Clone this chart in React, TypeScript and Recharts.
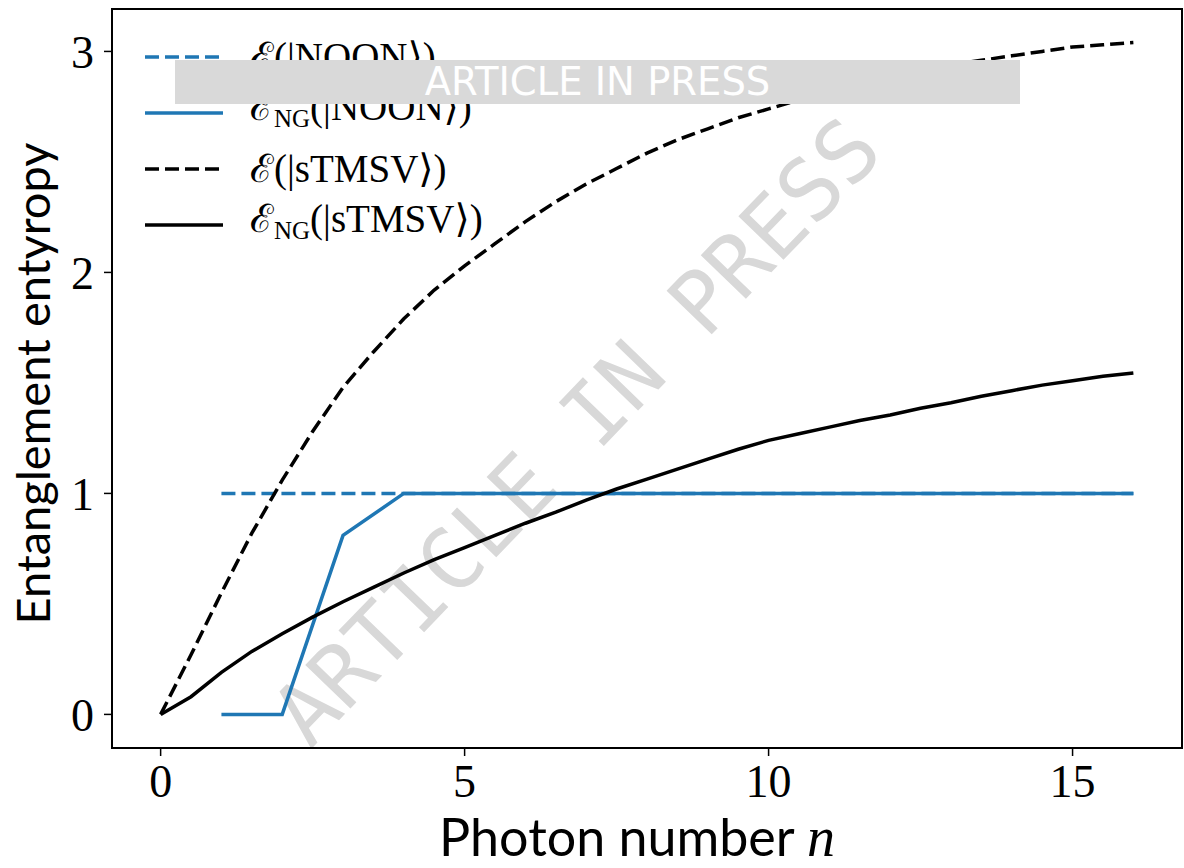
import React from 'react';
import { LineChart, Line, XAxis, YAxis, ReferenceArea, Label } from 'recharts';

// ---- data ----
const photonN = [0, 0.5, 1, 1.5, 2, 2.5, 3, 3.5, 4, 4.5, 5, 5.5, 6, 6.5, 7, 7.5, 8, 8.5, 9, 9.5, 10, 10.5, 11, 11.5, 12, 12.5, 13, 13.5, 14, 14.5, 15, 15.5, 16];
const entropySTMSV = [0, 0.27, 0.55, 0.82, 1.06, 1.28, 1.48, 1.64, 1.79, 1.92, 2.03, 2.13, 2.23, 2.32, 2.4, 2.47, 2.54, 2.6, 2.65, 2.7, 2.74, 2.78, 2.82, 2.85, 2.88, 2.91, 2.94, 2.96, 2.98, 3.0, 3.02, 3.03, 3.04];
const entropyNGSTMSV = [0, 0.08, 0.19, 0.285, 0.365, 0.44, 0.51, 0.575, 0.64, 0.7, 0.755, 0.81, 0.865, 0.915, 0.97, 1.02, 1.065, 1.11, 1.155, 1.2, 1.24, 1.27, 1.3, 1.33, 1.355, 1.385, 1.41, 1.44, 1.465, 1.49, 1.51, 1.53, 1.545];
const noonN = [1, 2, 3, 4, 5, 6, 7, 8, 9, 10, 11, 12, 13, 14, 15, 16];
const entropyNOON = [1, 1, 1, 1, 1, 1, 1, 1, 1, 1, 1, 1, 1, 1, 1, 1];
const entropyNGNOON = [0, 0, 0.81, 1, 1, 1, 1, 1, 1, 1, 1, 1, 1, 1, 1, 1];
const xTicks = [0, 5, 10, 15];
const yTicks = [0, 1, 2, 3];
const xDomain = [-0.8, 16.8];
const yDomain = [-0.152, 3.192];
const watermarkText = 'ARTICLE IN PRESS';

const BLUE = '#1f77b4';
const BLACK = '#000000';
const DASH = '14 6';

const noonData = noonN.map((n, i) => ({ n, e: entropyNOON[i], ng: entropyNGNOON[i] }));
const tmsvData = photonN.map((n, i) => ({ n, e: entropySTMSV[i], ng: entropyNGSTMSV[i] }));

const legendItems = [
  { state: 'NOON', ng: false, color: BLUE, dash: DASH },
  { state: 'NOON', ng: true, color: BLUE, dash: undefined },
  { state: 'sTMSV', ng: false, color: BLACK, dash: DASH },
  { state: 'sTMSV', ng: true, color: BLACK, dash: undefined },
];

const mathFont = '"Liberation Serif", "DejaVu Serif", serif';
const sansFont = 'Lato, "DejaVu Sans", sans-serif';

const ChartLegend = () => (
  <div style={{ position: 'absolute', left: 144, top: 29, zIndex: 1, display: 'flex', flexDirection: 'column' }}>
    {legendItems.map((it, i) => (
      <div key={i} style={{ display: 'flex', alignItems: 'center', height: 56 }}>
        <svg width={80} height={10} style={{ display: 'block' }}>
          <line x1={1} y1={5} x2={79} y2={5} stroke={it.color} strokeWidth={3.5} strokeDasharray={it.dash} />
        </svg>
        <span style={{ marginLeft: 26, fontFamily: mathFont, fontSize: 39, color: '#000', whiteSpace: 'nowrap', lineHeight: '46px' }}>
          ℰ{it.ng ? <sub style={{ fontSize: 25, verticalAlign: '-7px' }}>NG</sub> : null}(|{it.state}⟩)
        </span>
      </div>
    ))}
  </div>
);

const XLabel = (props: any) => {
  const vb = props.viewBox;
  return (
    <text x={vb.x + vb.width / 2 - 10} y={vb.y + 108} textAnchor="middle" fontFamily={sansFont} fontSize={52} fill="#000">
      Photon number <tspan fontFamily={mathFont} fontStyle="italic" fontSize={56}>n</tspan>
    </text>
  );
};

const YLabel = (props: any) => {
  const vb = props.viewBox;
  const cx = 50;
  const cy = vb.y + vb.height / 2 + 5;
  return (
    <text x={cx} y={cy} textAnchor="middle" fontFamily={sansFont} fontSize={47} fill="#000" transform={`rotate(-90 ${cx} ${cy})`}>
      Entanglement entyropy
    </text>
  );
};

export default function App() {
  return (
    <div style={{ position: 'absolute', left: 0, top: 0, width: 1184, height: 868, background: '#fff', overflow: 'hidden' }}>
      <svg width={1184} height={868} style={{ position: 'absolute', left: 0, top: 0, zIndex: 0 }}>
        <text
          x={598}
          y={452}
          textAnchor="middle"
          fontFamily='"DejaVu Sans Mono", monospace'
          fontSize={86}
          fill="#d8d8d8"
          transform="rotate(-46 598 452)"
        >
          {watermarkText}
        </text>
      </svg>
      <div style={{ position: 'absolute', left: 0, top: 0, zIndex: 1 }}>
        <LineChart width={1184} height={868} margin={{ top: 9, right: 2, left: 0, bottom: 0 }}>
          <XAxis
            dataKey="n"
            type="number"
            domain={xDomain}
            ticks={xTicks}
            allowDataOverflow
            height={120}
            tickSize={8}
            tickMargin={8}
            axisLine={{ stroke: '#000', strokeWidth: 2 }}
            tickLine={{ stroke: '#000', strokeWidth: 1.5 }}
            tick={{ fontFamily: mathFont, fontSize: 46, fill: '#000' }}
          >
            <Label content={<XLabel />} />
          </XAxis>
          <YAxis
            type="number"
            domain={yDomain}
            ticks={yTicks}
            allowDataOverflow
            width={112}
            tickSize={8}
            tickMargin={10}
            axisLine={{ stroke: '#000', strokeWidth: 2 }}
            tickLine={{ stroke: '#000', strokeWidth: 1.5 }}
            tick={{ fontFamily: mathFont, fontSize: 46, fill: '#000' }}
          >
            <Label content={<YLabel />} />
          </YAxis>
          <ReferenceArea x1={xDomain[0]} x2={xDomain[1]} y1={yDomain[0]} y2={yDomain[1]} fill="none" stroke="#000" strokeWidth={2} ifOverflow="visible" />
          <Line data={noonData} dataKey="e" type="linear" stroke={BLUE} strokeWidth={3.5} strokeDasharray={DASH} dot={false} isAnimationActive={false} />
          <Line data={noonData} dataKey="ng" type="linear" stroke={BLUE} strokeWidth={3.5} dot={false} isAnimationActive={false} />
          <Line data={tmsvData} dataKey="e" type="linear" stroke={BLACK} strokeWidth={3.5} strokeDasharray={DASH} dot={false} isAnimationActive={false} />
          <Line data={tmsvData} dataKey="ng" type="linear" stroke={BLACK} strokeWidth={3.5} dot={false} isAnimationActive={false} />
        </LineChart>
      </div>
      <ChartLegend />
      <div
        style={{
          position: 'absolute',
          left: 175,
          top: 60,
          width: 845,
          height: 44,
          background: '#d9d9d9',
          zIndex: 2,
          display: 'flex',
          alignItems: 'center',
          justifyContent: 'center',
          color: '#fff',
          fontFamily: '"DejaVu Sans", "Noto Sans", sans-serif',
          fontSize: 38.5,
          lineHeight: '44px',
        }}
      >
        {watermarkText}
      </div>
    </div>
  );
}
